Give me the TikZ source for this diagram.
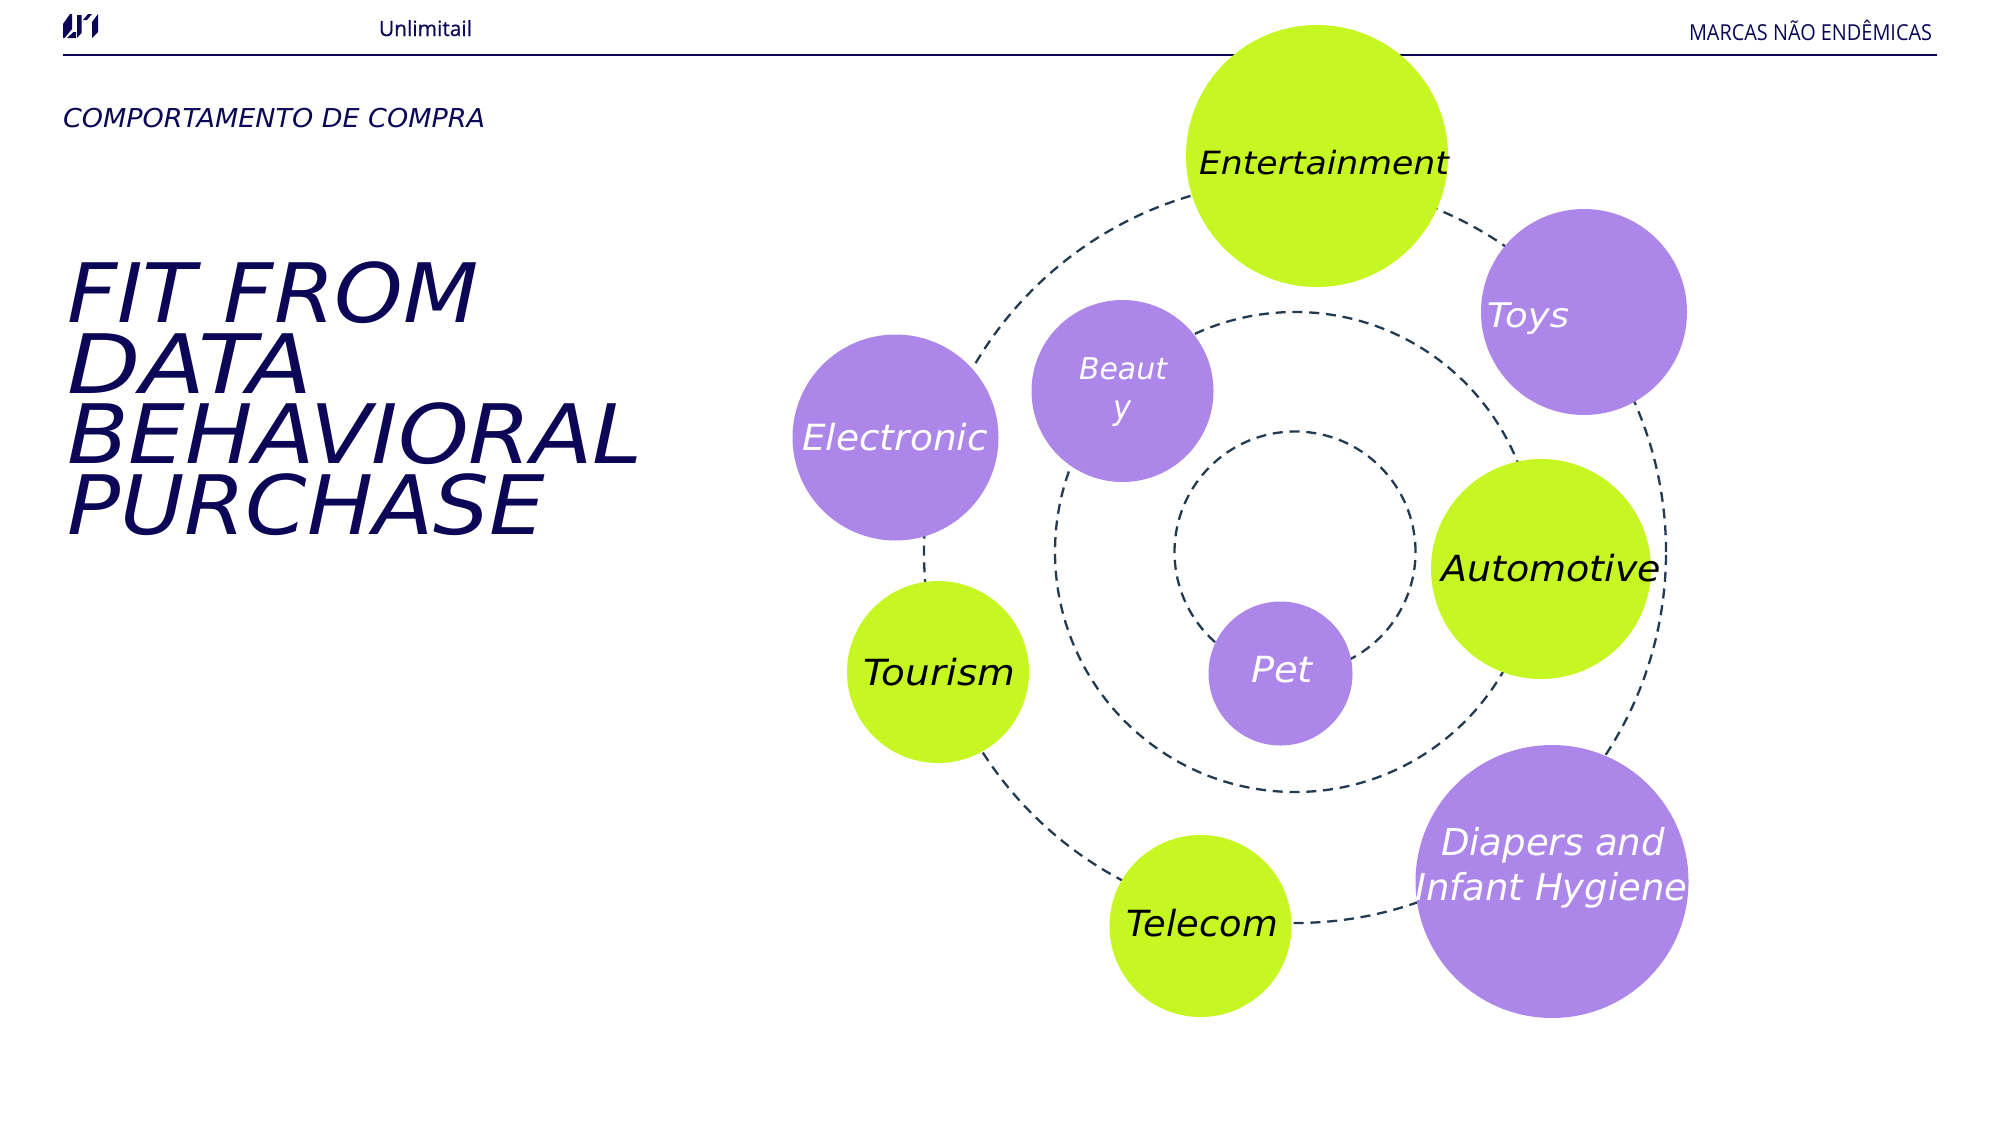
\documentclass[tikz,border=0pt]{standalone}
\usepackage{fontspec}
\setmainfont{Open Sans}
\newfontfamily\handfont{DejaVu Sans Oblique}
\newfontfamily\headfont{Open Sans}
\newfontfamily\brandfont[FakeBold=0.5]{Open Sans}
\definecolor{navy}{HTML}{0B0655}
\definecolor{lilac}{HTML}{AD86E9}
\definecolor{limeg}{HTML}{C7F723}
\definecolor{dashc}{HTML}{233B52}
% width in pt, font size in pt, text
\newcommand{\fitw}[3]{\resizebox{#1pt}{\height}{\fontsize{#2}{#2}\selectfont\handfont #3}}
\newcommand{\fith}[3]{\resizebox{#1pt}{\height}{\fontsize{#2}{#2}\selectfont\headfont #3}}
\newcommand{\fitb}[3]{\resizebox{#1pt}{\height}{\fontsize{#2}{#2}\selectfont\brandfont #3}}
\tikzset{
  ring/.style={circle,draw=dashc,line width=1.15pt,dash pattern=on 5pt off 3.4pt,fill=none,inner sep=0pt,outer sep=0pt},
  limeball/.style={circle,fill=limeg,inner sep=0pt,outer sep=0pt},
  lilacball/.style={circle,fill=lilac,inner sep=0pt,outer sep=0pt},
  lbl/.style={anchor=base west,inner sep=0pt,outer sep=0pt},
  onlime/.style={lbl,text=black},
  onlilac/.style={lbl,text=white},
  navytext/.style={lbl,text=navy}
}
\begin{document}
\begin{tikzpicture}[x=0.5pt,y=-0.5pt]
\path[use as bounding box,fill=white] (0,0) rectangle (2000,1125);
% logo
\fill[navy] (63,38) -- (63,24) -- (70,14) -- (72,14) -- (72,29) -- (64.5,38) -- cycle;
\fill[navy] (67,38) -- (73.5,32) -- (76,32) -- (76,38) -- cycle;
\fill[navy] (77,38) -- (77,15) -- (81.5,15) -- (81.5,33) -- cycle;
\fill[navy] (83,20) -- (88,14) -- (92,14) -- (87,20) -- cycle;
\fill[navy] (92,22) -- (98,14) -- (98,32) -- (92,38) -- cycle;
% header
\coordinate (hl) at (63,55);
\coordinate (hr) at (1937,55);
\draw[navy,line width=1pt] (hl) -- (hr);
\node[navytext] (brand) at (379,36) {\fitb{46.5}{10.5}{Unlimitail}};
\node[navytext] (sect) at (1689,40) {\fith{121.5}{11}{MARCAS NÃO ENDÊMICAS}};
\node[navytext] (sub) at (63,127) {\fitw{211}{13}{COMPORTAMENTO DE COMPRA}};
% title
\node[navytext] (t1) at (67,322) {\fitw{206}{41}{FIT FROM}};
\node[navytext] (t2) at (67,393) {\fitw{123}{41}{DATA}};
\node[navytext] (t3) at (67,463) {\fitw{288}{41}{BEHAVIORAL}};
\node[navytext] (t4) at (67,534) {\fitw{239}{41}{PURCHASE}};
% orbit rings
\node[ring,minimum size=120.5pt] (r1) at (1295,552) {};
\node[ring,minimum size=240pt] (r2) at (1295,552) {};
\node[ring,minimum size=371pt] (r3) at (1295,552) {};
% balls
\node[limeball,minimum size=131pt] (ent) at (1317,156) {};
\node[lilacball,minimum size=103pt] (toy) at (1584,312) {};
\node[lilacball,minimum size=103pt] (ele) at (895.5,437.5) {};
\node[lilacball,minimum size=91pt] (bea) at (1122.5,391) {};
\node[limeball,minimum size=110pt] (aut) at (1541,569) {};
\node[lilacball,minimum size=72pt] (pet) at (1280.5,673.5) {};
\node[limeball,minimum size=91pt] (tou) at (938,672) {};
\node[limeball,minimum size=91pt] (tel) at (1200.5,926) {};
\node[lilacball,minimum size=136.5pt] (dia) at (1552,881.5) {};
% labels
\node[onlime] (lent) at (1199,174) {\fitw{125}{16}{Entertainment}};
\node[onlilac] (ltoy) at (1487,327) {\fitw{41}{17}{Toys}};
\node[onlilac] (lele) at (802,450) {\fitw{93}{18}{Electronic}};
\node[onlilac] (lbe1) at (1079,379) {\fitw{44}{15}{Beaut}};
\node[onlilac] (lbe2) at (1113,419) {\fitw{9}{17}{y}};
\node[onlime] (laut) at (1441,581) {\fitw{110}{18}{Automotive}};
\node[onlilac] (lpet) at (1251,682) {\fitw{31}{18}{Pet}};
\node[onlime] (ltou) at (863,685) {\fitw{76}{18}{Tourism}};
\node[onlime] (ltel) at (1126,936) {\fitw{76}{18}{Telecom}};
\node[onlilac] (ldi1) at (1441,855) {\fitw{112}{18.5}{Diapers and}};
\node[onlilac] (ldi2) at (1415.5,900) {\fitw{136}{18.5}{Infant Hygiene}};
\end{tikzpicture}
\end{document}
